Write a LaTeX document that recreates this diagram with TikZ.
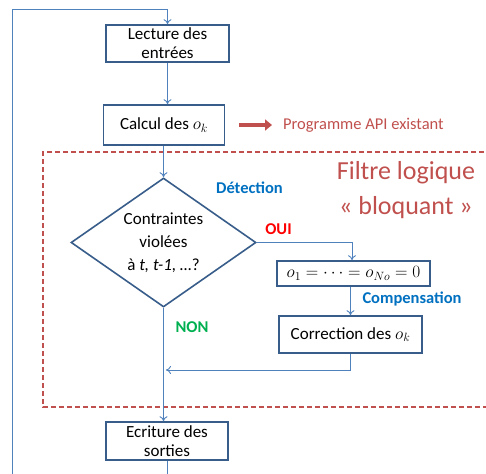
\documentclass[tikz,border=0pt]{standalone}
\usepackage{fontspec}
\setmainfont{Carlito}
\usetikzlibrary{shapes.geometric,arrows.meta}
\definecolor{boxblue}{RGB}{56,93,138}
\definecolor{lineblue}{RGB}{79,129,189}
\definecolor{dred}{RGB}{192,80,77}
\definecolor{tblue}{RGB}{0,112,192}
\definecolor{tgreen}{RGB}{0,176,80}
\definecolor{tred}{RGB}{255,0,0}
\tikzset{
  box/.style={draw=boxblue, line width=1.6pt, fill=white, align=center, inner sep=1pt,
    font=\fontsize{17}{19}\selectfont},
  conn/.style={draw=lineblue, line width=0.9pt, -{To[length=5pt,width=8pt]}},
  lbl/.style={font=\fontsize{16.5}{18}\selectfont\bfseries},
}
\begin{document}
\begin{tikzpicture}[x=1pt,y=-1pt]
\useasboundingbox (0,0) rectangle (486,473);
% filter frame
\begin{scope}
\clip (0,0) rectangle (486,473);
\draw[dred, line width=1.5pt, dash pattern=on 5pt off 3pt] (500,152) -- (43,152) -- (43,407) -- (500,407);
\end{scope}
\node[box, minimum width=123pt, minimum height=37pt] (lect) at (167.5,43.5) {Lecture des\\entrées};
\node[box, minimum width=121pt, minimum height=40pt] (calc) at (164,125) {Calcul des $o_k$};
\node[draw=boxblue, line width=1.6pt, shape=diamond, aspect=1.43, minimum width=185pt, minimum height=129pt,
  inner sep=0pt, align=center, font=\fontsize{17}{23}\selectfont] (dia) at (163.5,242.5)
  {Contraintes\\violées\\à \textit{t, t-1, \dots}?};
\node[box, minimum width=153pt, minimum height=25pt, font=\fontsize{18}{20}\selectfont] (ob) at (353.5,273.5) {$o_1=\cdots=o_{No}=0$};
\node[box, minimum width=143pt, minimum height=37pt] (corr) at (350.5,334.5) {Correction des $o_k$};
\node[box, minimum width=122pt, minimum height=38pt] (ecr) at (167,441) {Ecriture des\\sorties};
% texts
\node[anchor=west, inner sep=0pt, text=dred, font=\fontsize{16.5}{18}\selectfont] (api) at (283,125) {Programme API existant};
\node[align=center, text=dred, font=\fontsize{26}{35}\selectfont] (filt) at (406,190) {Filtre logique\\« bloquant »};
\node[lbl, text=tblue] (det) at (249.5,188) {Détection};
\node[lbl, text=tred] (oui) at (278.5,229.5) {OUI};
\node[lbl, text=tblue] (comp) at (412,299) {Compensation};
\node[lbl, text=tgreen] (non) at (192,327) {NON};
% connectors
\coordinate (lb) at (12,490);
\coordinate (lt) at (12,9);
\coordinate (ret) at (166,370);
\draw[conn] (lect.south) -- (lect.south |- calc.north);
\draw[conn] (calc.south -| dia.north) -- (dia.north);
\draw[conn] (dia.east) -| ([xshift=-1.5pt]ob.north);
\draw[conn] (corr.north |- ob.south) -- (corr.north);
\draw[conn] (corr.south) |- (ret);
\draw[conn] (dia.south) -- (dia.south |- ecr.north);
\draw[conn] (ecr.south) -- (ecr.south |- lb) -- (lb) -- (lt) -| (lect.north);
\draw[dred, line width=4pt, -{Triangle[length=7pt,width=11pt]}] ([xshift=14pt]calc.east) -- ([xshift=-11pt]api.west);
\end{tikzpicture}
\end{document}
